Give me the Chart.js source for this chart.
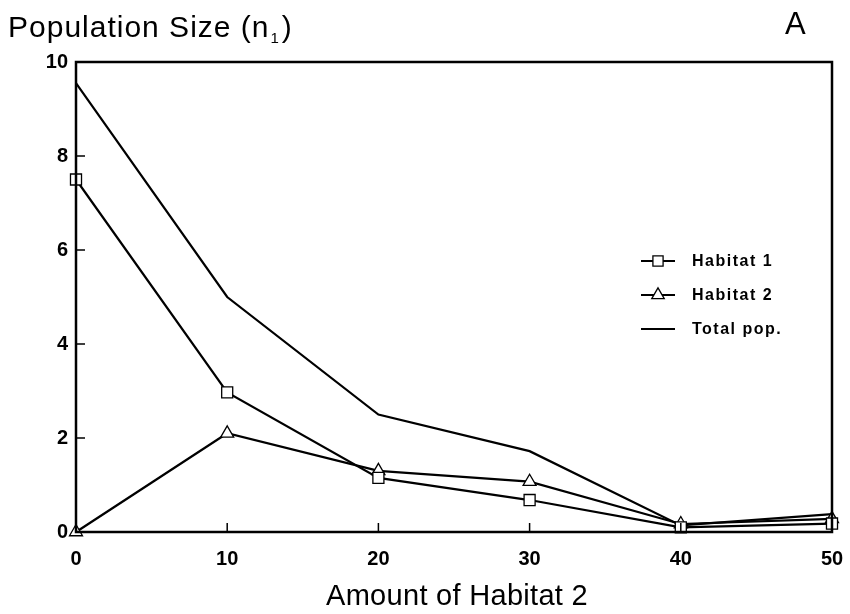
<!DOCTYPE html>
<html><head><meta charset="utf-8">
<script src="https://cdn.jsdelivr.net/npm/chart.js@4.4.1/dist/chart.umd.min.js"></script>
<style>html,body{margin:0;padding:0;background:#fff}#wrap{width:850px;height:614px}</style>
</head><body><div id="wrap"><canvas id="c" width="850" height="614"></canvas></div>
<script>
const xValues = [0, 10, 20, 30, 40, 50];
const habitat1 = [7.5, 2.97, 1.15, 0.68, 0.1, 0.18];
const habitat2 = [0, 2.1, 1.3, 1.07, 0.17, 0.28];
const totalPop = [9.55, 5.0, 2.5, 1.72, 0.14, 0.38];
const xTicks = [0, 10, 20, 30, 40, 50];
const yTicks = [0, 2, 4, 6, 8, 10];
const legendLabels = ['Habitat 1', 'Habitat 2', 'Total pop.'];
const titleText = 'Population Size (n';
const titleSub = '1';
const panelLabel = 'A';
const xTitle = 'Amount of Habitat 2';

const pts = arr => arr.map((v, i) => ({x: xValues[i], y: v}));
const FONT = '"Liberation Sans", Arial, Helvetica, sans-serif';
const LS = (ctx, v) => { if ('letterSpacing' in ctx) ctx.letterSpacing = v; };

const decor = {
  id: 'decor',
  afterDraw(chart) {
    const ctx = chart.ctx, a = chart.chartArea;
    const xs = chart.scales.x, ys = chart.scales.y;
    ctx.save();
    ctx.strokeStyle = '#000';
    ctx.lineWidth = 2.5;
    ctx.strokeRect(a.left, a.top, a.right - a.left, a.bottom - a.top);
    ctx.lineWidth = 1.5;
    ctx.beginPath();
    yTicks.forEach(v => { const y = ys.getPixelForValue(v); ctx.moveTo(a.left, y); ctx.lineTo(a.left + 9, y); });
    xTicks.forEach(v => { const x = xs.getPixelForValue(v); ctx.moveTo(x, a.bottom); ctx.lineTo(x, a.bottom - 9); });
    ctx.stroke();
    // title
    ctx.fillStyle = '#000';
    ctx.textBaseline = 'alphabetic';
    ctx.textAlign = 'left';
    LS(ctx, '1px');
    ctx.font = '30px ' + FONT;
    ctx.fillText(titleText, 8, 37);
    let w = ctx.measureText(titleText).width;
    ctx.font = '15px ' + FONT;
    LS(ctx, '0px');
    ctx.fillText(titleSub, 8 + w + 1, 43);
    let w2 = ctx.measureText(titleSub).width;
    ctx.font = '30px ' + FONT;
    ctx.fillText(')', 8 + w + w2 + 4, 37);
    ctx.font = '31px ' + FONT;
    ctx.fillText(panelLabel, 785, 34);
    // x title
    ctx.textAlign = 'center';
    ctx.font = '29px ' + FONT;
    LS(ctx, '0.3px');
    ctx.fillText(xTitle, 457, 605);
    // legend
    const rows = [261, 295, 329];
    const styles = ['rect', 'triangle', null];
    ctx.textAlign = 'left';
    ctx.textBaseline = 'middle';
    rows.forEach((y, i) => {
      ctx.lineWidth = 2;
      ctx.strokeStyle = '#000';
      ctx.beginPath(); ctx.moveTo(641, y); ctx.lineTo(675, y); ctx.stroke();
      if (styles[i]) {
        ctx.lineWidth = 1.3;
        ctx.fillStyle = '#fff';
        Chart.helpers.drawPoint(ctx, {pointStyle: styles[i], radius: 7.2, rotation: 0, borderWidth: 1.3}, 658, y);
      }
      ctx.fillStyle = '#000';
      ctx.font = 'bold 16px ' + FONT;
      LS(ctx, '1.5px');
      ctx.fillText(legendLabels[i], 692, y + 1);
    });
    LS(ctx, '0px');
    ctx.restore();
  }
};

new Chart(document.getElementById('c'), {
  type: 'line',
  data: {
    datasets: [
      {label: legendLabels[0], data: pts(habitat1), borderColor: '#000', borderWidth: 2.2, pointStyle: 'rect', pointRadius: 7.8, pointBackgroundColor: '#fff', pointBorderColor: '#000', pointBorderWidth: 1.3, tension: 0, clip: false},
      {label: legendLabels[1], data: pts(habitat2), borderColor: '#000', borderWidth: 2.2, pointStyle: 'triangle', pointRadius: 7.5, pointBackgroundColor: '#fff', pointBorderColor: '#000', pointBorderWidth: 1.3, tension: 0, clip: false},
      {label: legendLabels[2], data: pts(totalPop), borderColor: '#000', borderWidth: 2.2, pointRadius: 0, tension: 0, clip: false}
    ]
  },
  options: {
    responsive: false,
    animation: false,
    events: [],
    layout: {padding: {top: 62, right: 18, left: 0, bottom: 0}},
    plugins: {legend: {display: false}, tooltip: {enabled: false}, title: {display: false}},
    scales: {
      x: {
        type: 'linear', min: 0, max: 50,
        afterFit(s) { s.height = 82; s.paddingLeft = 0; s.paddingRight = 0; },
        afterBuildTicks(s) { s.ticks = xTicks.map(v => ({value: v})); },
        grid: {display: false, drawTicks: false},
        border: {display: false},
        ticks: {color: '#000', padding: 15, font: {family: FONT, size: 20, weight: 'bold'}}
      },
      y: {
        type: 'linear', min: 0, max: 10,
        afterFit(s) { s.width = 76; s.paddingTop = 0; s.paddingBottom = 0; },
        afterBuildTicks(s) { s.ticks = yTicks.map(v => ({value: v})); },
        grid: {display: false, drawTicks: false},
        border: {display: false},
        ticks: {color: '#000', padding: 8, font: {family: FONT, size: 20, weight: 'bold'}}
      }
    }
  },
  plugins: [decor]
});
</script></body></html>
